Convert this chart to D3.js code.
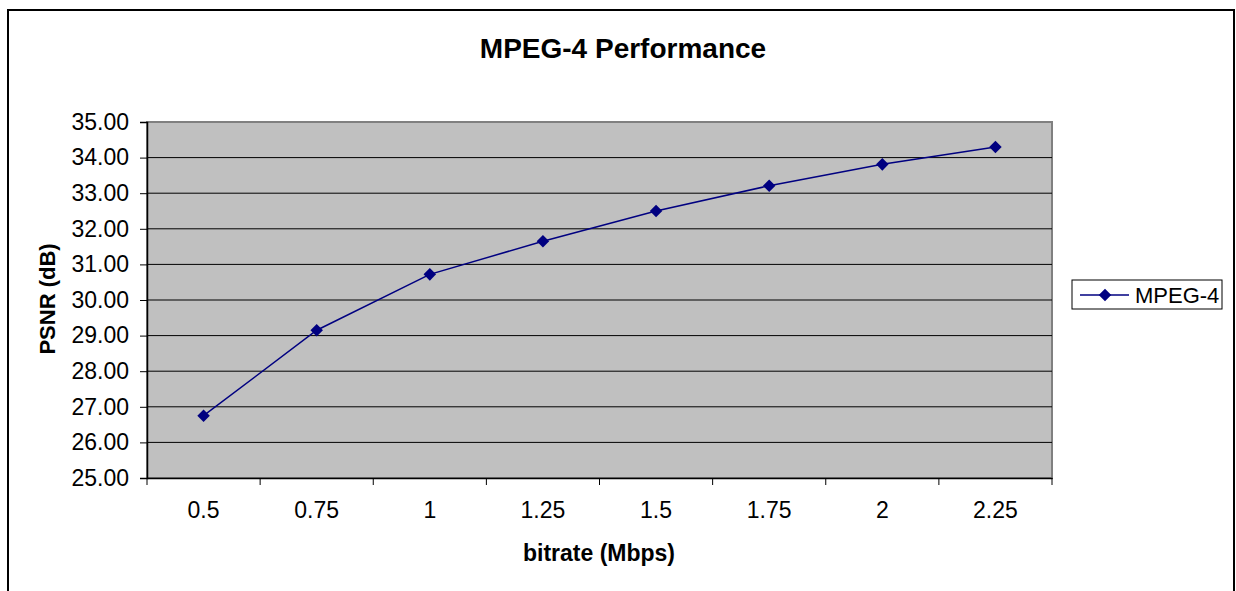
<!DOCTYPE html>
<html>
<head>
<meta charset="utf-8">
<script src="https://cdn.jsdelivr.net/npm/d3@7"></script>
<style>
  body { margin: 0; background: #fff; }
  svg { display: block; font-family: "Liberation Sans", Arial, sans-serif; }
</style>
</head>
<body>
<div id="chart"></div>
<script>
// --- data ---
const bitrates = ["0.5", "0.75", "1", "1.25", "1.5", "1.75", "2", "2.25"];
const psnr = [26.75, 29.15, 30.72, 31.65, 32.50, 33.21, 33.81, 34.30];
const yTicks = [25, 26, 27, 28, 29, 30, 31, 32, 33, 34, 35];
const seriesName = "MPEG-4";

const W = 1236, H = 591;
const margin = { top: 122, right: 184, bottom: 113, left: 147 };
const width = W - margin.left - margin.right;
const height = H - margin.top - margin.bottom;

const svgRoot = d3.select("#chart")
  .append("svg")
  .attr("width", W)
  .attr("height", H);

// outer chart border
svgRoot.append("rect")
  .attr("x", 8).attr("y", 10)
  .attr("width", 1226).attr("height", 590)
  .attr("fill", "none")
  .attr("stroke", "#000")
  .attr("stroke-width", 2);

const svg = svgRoot.append("g")
  .attr("transform", `translate(${margin.left},${margin.top})`);

const x = d3.scaleBand().domain(bitrates).range([0, width]);
const y = d3.scaleLinear().domain([25, 35]).range([height, 0]);

// plot area
svg.append("rect")
  .attr("width", width).attr("height", height)
  .attr("fill", "#c0c0c0")
  .attr("stroke", "#808080")
  .attr("stroke-width", 2);

// gridlines
svg.selectAll(".grid")
  .data(yTicks.slice(1, -1))
  .join("line")
  .attr("x1", 0).attr("x2", width)
  .attr("y1", d => y(d)).attr("y2", d => y(d))
  .attr("stroke", "#000")
  .attr("stroke-width", 1);

// y axis
const yAxis = svg.append("g")
  .call(d3.axisLeft(y).tickValues(yTicks).tickFormat(d3.format(".2f")).tickSize(7).tickPadding(11));
yAxis.select(".domain").attr("stroke", "#000").attr("stroke-width", 1.5);
yAxis.selectAll(".tick line").attr("stroke", "#000");
yAxis.selectAll("text").style("font-size", "23px").attr("fill", "#000");

// x axis: ticks between categories
const xAxis = svg.append("g")
  .attr("transform", `translate(0,${height})`)
  .call(d3.axisBottom(x).tickSize(0).tickPadding(24));
xAxis.select(".domain").attr("stroke", "#000").attr("stroke-width", 1.5);
xAxis.selectAll("text").style("font-size", "23px").attr("fill", "#000");
svg.append("g")
  .selectAll("line")
  .data(bitrates.concat(["end"]))
  .join("line")
  .attr("x1", (d, i) => i * x.step()).attr("x2", (d, i) => i * x.step())
  .attr("y1", height).attr("y2", height + 7)
  .attr("stroke", "#000");

// line + markers
const cx = d => x(d) + x.bandwidth() / 2;
const line = d3.line()
  .x((d, i) => cx(bitrates[i]))
  .y(d => y(d));

svg.append("path")
  .datum(psnr)
  .attr("d", line)
  .attr("fill", "none")
  .attr("stroke", "#000080")
  .attr("stroke-width", 1.5);

const diamond = d3.symbol().type(d3.symbolDiamond2).size(100);
svg.selectAll(".pt")
  .data(psnr)
  .join("path")
  .attr("d", diamond)
  .attr("transform", (d, i) => `translate(${cx(bitrates[i])},${y(d)})`)
  .attr("fill", "#000080");

// titles
svgRoot.append("text")
  .attr("x", 623).attr("y", 58)
  .attr("text-anchor", "middle")
  .attr("font-size", "28px")
  .attr("font-weight", "bold")
  .text("MPEG-4 Performance");

svgRoot.append("text")
  .attr("x", 599).attr("y", 561)
  .attr("text-anchor", "middle")
  .attr("font-size", "23px")
  .attr("font-weight", "bold")
  .text("bitrate (Mbps)");

svgRoot.append("text")
  .attr("transform", "translate(55,299) rotate(-90)")
  .attr("text-anchor", "middle")
  .attr("font-size", "22px")
  .attr("font-weight", "bold")
  .text("PSNR (dB)");

// legend
const legend = svgRoot.append("g").attr("transform", "translate(1072,280)");
legend.append("rect")
  .attr("width", 150).attr("height", 29)
  .attr("fill", "#fff")
  .attr("stroke", "#000");
legend.append("line")
  .attr("x1", 8).attr("x2", 57).attr("y1", 15).attr("y2", 15)
  .attr("stroke", "#000080").attr("stroke-width", 1.5);
legend.append("path")
  .attr("d", diamond)
  .attr("transform", "translate(33,15)")
  .attr("fill", "#000080");
legend.append("text")
  .attr("x", 63).attr("y", 23)
  .attr("font-size", "22px")
  .text(seriesName);
</script>
</body>
</html>
